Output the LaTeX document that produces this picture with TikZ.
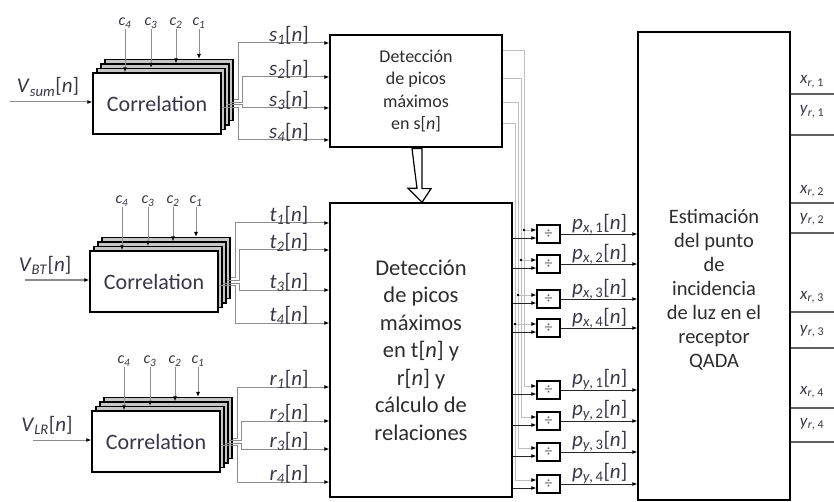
\documentclass[tikz,border=0pt]{standalone}
\usepackage{fontspec}
\setmainfont{Carlito}
\usetikzlibrary{arrows.meta,calc}
\definecolor{lblc}{RGB}{55,55,72}
\definecolor{wirec}{RGB}{140,140,140}
\definecolor{txtc}{RGB}{45,45,45}
\newcommand\sg[3]{\textit{#1}\textsubscript{\textit{#2}}[\textit{#3}]}
\newcommand\corrblk[5]{%
  \node[layer] (#1L3) at (#2+76,#3+17) {};
  \node[layer] (#1L2) at (#2+72,#3+21.5) {};
  \node[layer] (#1L1) at (#2+68,#3+26) {};
  \node[front] (#1L0) at (#2+64,#3+30.5) {Correlation};
  \foreach \ci/\dx/\ly in {4/32/L0,3/58/L1,2/83/L2,1/106/L3}{
    \node[clbl] (#1c\ci) at (#2+\dx,#3-50) {\textit{c}\textsubscript{\textit{\ci}}};
    \draw[cwire] (#1c\ci.south) -- (#1c\ci.south |- #1\ly.north);
  }
  \node[lbl] (#1vin) at (#2-45,#3+14) {#4};
  \coordinate (#1src) at (#5,#3+29);
  \draw[wire] (#1src) -- (#1src -| #1L0.west);
}
\newcommand\outs[7]{%
  \coordinate (#1t1) at (0,#4);
  \coordinate (#1t2) at (0,#5);
  \coordinate (#1t3) at (0,#6);
  \coordinate (#1t4) at (0,#7);
  \draw[wire] ($(#1L3.east)+(0,10)$) -- ++(5,0) |- (#2.west |- #1t1);
  \draw[wire] ($(#1L2.east)+(0,8)$) -- ++(13,0) |- (#2.west |- #1t2);
  \draw[wire] ($(#1L1.east)+(0,6)$) -- ++(17,0) |- (#2.west |- #1t3);
  \draw[wire] ($(#1L0.east)+(0,4)$) -- ++(17,0) |- (#2.west |- #1t4);
  \node[lbl,anchor=south] (#1o1) at (289,#4+2) {\sg{#3}{1}{n}};
  \node[lbl,anchor=south] (#1o2) at (289,#5+2) {\sg{#3}{2}{n}};
  \node[lbl,anchor=south] (#1o3) at (289,#6+2) {\sg{#3}{3}{n}};
  \node[lbl,anchor=south] (#1o4) at (289,#7+2) {\sg{#3}{4}{n}};
}
\begin{document}
\begin{tikzpicture}[x=1pt,y=-1pt,
  box/.style={draw=black, line width=1.3pt, fill=white, inner sep=0pt, align=center, text=txtc},
  layer/.style={draw=black, line width=1.1pt, fill=gray!45, minimum width=128pt, minimum height=61pt, inner sep=0pt},
  front/.style={draw=black, line width=1.3pt, fill=white, minimum width=128pt, minimum height=61pt, inner sep=0pt, text=lblc, font=\fontsize{22}{24}\selectfont},
  wire/.style={draw=wirec, line width=1pt, -{Latex[length=5pt,width=4pt,color=black]}},
  bwire/.style={draw=black!85, line width=0.9pt, -{Latex[length=5pt,width=4pt,color=black]}},
  gline/.style={draw=gray!50, line width=0.8pt, -{Latex[length=5pt,width=4pt,color=black]}},
  cwire/.style={draw=wirec, line width=1pt, -{Latex[length=5pt,width=4pt,color=black]}},
  outw/.style={draw=gray!75!black, line width=1.1pt},
  divbox/.style={draw=black, line width=1.3pt, fill=white, minimum width=23pt, minimum height=18pt, inner sep=0pt, font=\fontsize{16}{16}\selectfont, text=gray!80!black},
  lbl/.style={font=\fontsize{21}{24}\selectfont, text=lblc, inner sep=0.5pt},
  clbl/.style={font=\fontsize{16}{18}\selectfont, text=lblc, inner sep=0.5pt},
  olbl/.style={font=\fontsize{17}{19}\selectfont, text=lblc, inner sep=0.5pt}
]
\useasboundingbox[fill=white] (0,0) rectangle (834,502);

% main blocks
\node[box, minimum width=172pt, minimum height=112pt, font=\fontsize{18}{22.5}\selectfont] (box1) at (416,91)
  {Detección\\de picos\\máximos\\en s[\textit{n}]};
\node[box, minimum width=182pt, minimum height=294pt, font=\fontsize{22.5}{27.5}\selectfont] (box2) at (421,350)
  {Detección\\de picos\\máximos\\en t[\textit{n}] y\\r[\textit{n}] y\\cálculo de\\relaciones};
\node[box, minimum width=152pt, minimum height=468pt] (box3) at (714,266) {};
\node[align=center, text=txtc, font=\fontsize{20.5}{24}\selectfont] (box3t) at (714,290)
  {Estimación\\del punto\\de\\incidencia\\de luz en el\\receptor\\QADA};

% hollow arrow between detection blocks
\draw[line width=1.2pt, fill=white] ($(box1.south)+(-4,1)$) -- ++(10,0) -- ++(0,40) -- ++(9,0)
  -- ($(box2.north)+(1,0)$) -- ++(-14,-14) -- ++(9,0) -- cycle;

% correlation blocks
\corrblk{s}{93}{73}{\sg{V}{sum}{n}}{10}
\corrblk{t}{90}{251}{\sg{V}{BT}{n}}{25}
\corrblk{r}{92}{411}{\sg{V}{LR}{n}}{33}

\outs{s}{box1}{s}{43}{77}{108}{140}
\outs{t}{box2}{t}{223}{250}{290}{323}
\outs{r}{box2}{r}{387}{421}{449}{482}

% divider boxes
\foreach \nm/\yc in {px1/234,px2/264,px3/299,px4/328,py1/390,py2/421,py3/452,py4/484}
  \node[divbox] (\nm) at (548.5,\yc) {÷};

% grey lines from the first detection block
\coordinate (g1) at (524,50);
\coordinate (g2) at (521,78);
\coordinate (g3) at (518,102);
\coordinate (g4) at (515,123);
\foreach \i in {1,2,3,4}{
  \draw[gline] (box1.east |- g\i) -- (g\i) |- ($(py\i.west)+(0,-4)$);
  \draw[gline] ($(g\i |- px\i.west)+(0,-4)$) -- ($(px\i.west)+(0,-4)$);
  \fill ($(g\i |- px\i.west)+(0,-4)$) circle (1.4pt);
}

% black inputs from the second detection block, outputs to the estimator
\foreach \nm/\xy/\k in {px1/x/1,px2/x/2,px3/x/3,px4/x/4,py1/y/1,py2/y/2,py3/y/3,py4/y/4}{
  \draw[bwire] ($(box2.east |- \nm.west)+(0,4)$) -- ($(\nm.west)+(0,4)$);
  \draw[bwire] (\nm.east) -- (\nm.east -| box3.west);
  \node[lbl, anchor=south] (l\nm) at ($(\nm.east)+(39,1)$) {\textit{p}\textsubscript{\textit{\xy},\,\k}[\textit{n}]};
}

% outputs of the estimator
\foreach \k/\yl in {xa/94,ya/135,xb/203,yb/233,xc/312,yc/348,xd/408,yd/442}{
  \coordinate (e\k) at (834,\yl);
  \draw[outw] (box3.east |- e\k) -- (e\k);
}
\node[olbl] (lxa) at (812,82) {\textit{x}\textsubscript{\textit{r}, 1}};
\node[olbl] (lya) at (812,112) {\textit{y}\textsubscript{\textit{r}, 1}};
\node[olbl] (lxb) at (812,191) {\textit{x}\textsubscript{\textit{r}, 2}};
\node[olbl] (lyb) at (812,219) {\textit{y}\textsubscript{\textit{r}, 2}};
\node[olbl] (lxc) at (812,297) {\textit{x}\textsubscript{\textit{r}, 3}};
\node[olbl] (lyc) at (812,331) {\textit{y}\textsubscript{\textit{r}, 3}};
\node[olbl] (lxd) at (812,392) {\textit{x}\textsubscript{\textit{r}, 4}};
\node[olbl] (lyd) at (812,424) {\textit{y}\textsubscript{\textit{r}, 4}};
\end{tikzpicture}
\end{document}
